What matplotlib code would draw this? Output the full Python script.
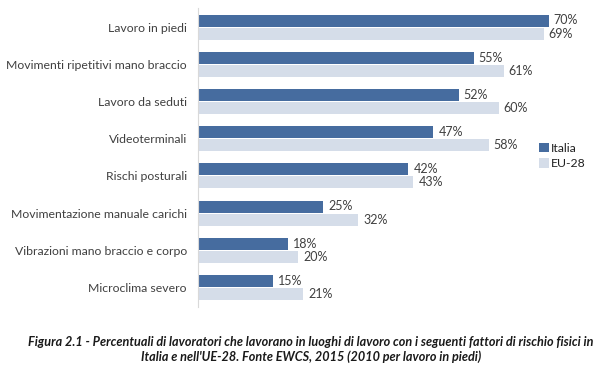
import matplotlib
matplotlib.use("Agg")
import matplotlib.pyplot as plt
from matplotlib.patches import Patch

categories = ["Lavoro in piedi", "Movimenti ripetitivi mano braccio", "Lavoro da seduti",
              "Videoterminali", "Rischi posturali", "Movimentazione manuale carichi",
              "Vibrazioni mano braccio e corpo", "Microclima severo"]
italia = [70, 55, 52, 47, 42, 25, 18, 15]
eu28 = [69, 61, 60, 58, 43, 32, 20, 21]
series_names = ["Italia", "EU-28"]
caption = ("Figura 2.1 - Percentuali di lavoratori che lavorano in luoghi di lavoro con i seguenti fattori di rischio fisici in\n"
           "Italia e nell'UE-28. Fonte EWCS, 2015 (2010 per lavoro in piedi)")

c_it = "#466C9F"
c_eu = "#D5DDE9"
txt = "#404040"
font = "Lato"

W, H = 600, 376
fig = plt.figure(figsize=(6, 3.76), dpi=100)
ax_left, ax_right = 198, 600
ax_top, ax_bot = 8, 307
ax = fig.add_axes([ax_left / W, 1 - ax_bot / H, (ax_right - ax_left) / W, (ax_bot - ax_top) / H])

step = 37.2
y0 = 27
ax.set_ylim((ax_bot - y0) / step, (ax_top - y0) / step)
ax.set_xlim(0, (ax_right - ax_left) / 5.01)

bh = 12 / step
off = 6.5 / step
ys = list(range(len(categories)))
ax.barh([y - off for y in ys], italia, height=bh, color=c_it)
ax.barh([y + off for y in ys], eu28, height=bh, color=c_eu)

for y, v in zip(ys, italia):
    ax.text(v + 1.0, y - off, f"{v}%", va="center", ha="left", fontsize=9, color=txt, family=font)
for y, v in zip(ys, eu28):
    ax.text(v + 1.0, y + off, f"{v}%", va="center", ha="left", fontsize=9, color=txt, family=font)

ax.set_yticks(ys)
ax.set_yticklabels(categories, fontsize=8.8, color=txt, family=font)
ax.tick_params(axis="y", length=0, pad=8)
ax.set_xticks([])
for s in ["top", "right", "bottom"]:
    ax.spines[s].set_visible(False)
ax.spines["left"].set_color("#D9D9D9")
ax.spines["left"].set_linewidth(0.8)

handles = [Patch(facecolor=c_it), Patch(facecolor=c_eu)]
leg = fig.legend(handles, series_names, loc="upper left", bbox_to_anchor=(539 / W, 1 - 143 / H),
                 frameon=False, handlelength=0.8, handleheight=0.8,
                 handletextpad=0.2, labelspacing=0.35, borderpad=0, borderaxespad=0,
                 prop={"family": font, "size": 8.8})
for t in leg.get_texts():
    t.set_color("#202020")

fig.text(311 / W, 1 - 349.5 / H, caption, ha="center", va="center", fontsize=9.1, style="italic",
         fontweight="bold", color="#1a1a1a", family=font, linespacing=1.3)

fig.savefig("out.png", dpi=100, facecolor="white")
